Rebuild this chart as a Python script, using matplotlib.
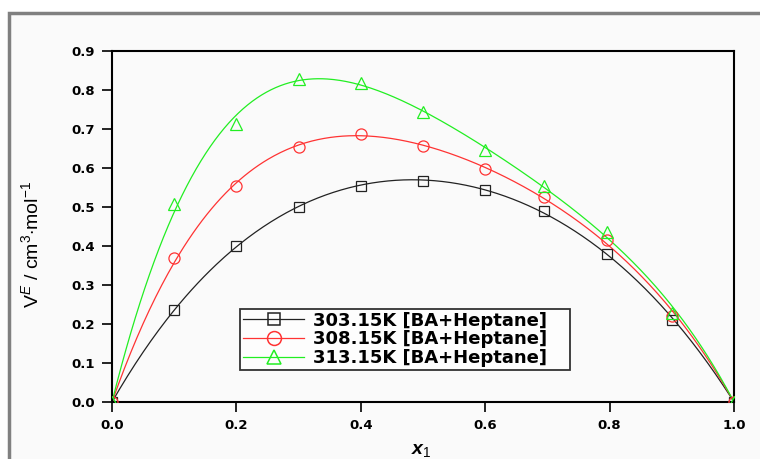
import numpy as np
import matplotlib
matplotlib.use("Agg")
import matplotlib.pyplot as plt
from matplotlib.lines import Line2D

# ---- data ----
x_data = [0.0, 0.1, 0.2, 0.3, 0.4, 0.5, 0.6, 0.695, 0.796, 0.9, 1.0]
v_303 = [0.0, 0.237, 0.400, 0.500, 0.555, 0.566, 0.544, 0.490, 0.380, 0.209, 0.0]
v_308 = [0.0, 0.369, 0.555, 0.655, 0.688, 0.656, 0.597, 0.526, 0.415, 0.220, 0.0]
v_313 = [0.0, 0.508, 0.714, 0.829, 0.818, 0.744, 0.645, 0.554, 0.436, 0.228, 0.0]
labels = ["303.15K [BA+Heptane]", "308.15K [BA+Heptane]", "313.15K [BA+Heptane]"]
colors = ["#222222", "#ff3333", "#22ee22"]
markers = ["s", "o", "^"]
x_ticks = [0.0, 0.2, 0.4, 0.6, 0.8, 1.0]
y_ticks = [0.0, 0.1, 0.2, 0.3, 0.4, 0.5, 0.6, 0.7, 0.8, 0.9]

plt.rcParams['font.family'] = ['Liberation Sans', 'DejaVu Sans']
plt.rcParams['mathtext.fontset'] = 'custom'
plt.rcParams['mathtext.rm'] = 'Liberation Sans'
plt.rcParams['mathtext.it'] = 'Liberation Sans:italic'
plt.rcParams['mathtext.bf'] = 'Liberation Sans:bold'
plt.rcParams['mathtext.bfit'] = 'Liberation Sans:bold:italic'

fig = plt.figure(figsize=(7.6, 4.59), dpi=100)
fig.patch.set_facecolor('white')

# outer frame
W, H = 760, 459
frame = plt.Rectangle((9 / W, -0.1), 1.2, (H - 13) / H + 0.1,
                      transform=fig.transFigure, facecolor='#fafafa',
                      edgecolor='#808080', linewidth=2.5, zorder=-10)
fig.add_artist(frame)

ax = fig.add_axes([112 / W, 1 - 402 / H, (734 - 112) / W, (402 - 51) / H])
ax.set_facecolor('none')
ax.set_zorder(1)


def rk_fit(x, v, n=3):
    x = np.asarray(x)
    v = np.asarray(v)
    A = np.column_stack([x * (1 - x) * (2 * x - 1) ** k for k in range(n)])
    coef, *_ = np.linalg.lstsq(A, v, rcond=None)
    xs = np.linspace(0, 1, 400)
    ys = sum(c * xs * (1 - xs) * (2 * xs - 1) ** k for k, c in enumerate(coef))
    return xs, ys


handles = []
for v, lab, c, m in zip([v_303, v_308, v_313], labels, colors, markers):
    xs, ys = rk_fit(x_data, v)
    ax.plot(xs, ys, color=c, lw=0.9, zorder=2)
    ax.plot(x_data, v, linestyle='none', marker=m, markersize=8 if m != 's' else 7,
            markerfacecolor='none', markeredgecolor=c, markeredgewidth=0.9, zorder=3)
    handles.append(Line2D([], [], color=c, lw=0.9, marker=m, markersize=10 if m != 's' else 8.5,
                          markerfacecolor='none', markeredgecolor=c, markeredgewidth=1.1))

ax.set_xlim(0, 1.0)
ax.set_ylim(0, 0.9)
ax.set_xticks(x_ticks)
ax.set_yticks(y_ticks)
tick_font = {'family': 'DejaVu Sans', 'weight': 'bold', 'size': 9.5}
ax.set_xticklabels([f"{t:.1f}" for t in x_ticks], fontdict=tick_font)
ax.set_yticklabels([f"{t:.1f}" for t in y_ticks], fontdict=tick_font)
ax.tick_params(direction='out', length=7, width=1.2, colors='black', pad=5)
for s in ax.spines.values():
    s.set_linewidth(1.5)
    s.set_color('black')

ax.set_xlabel(r"$\boldsymbol{x}_{1}$", fontsize=14)
ax.xaxis.set_label_coords(0.497, -0.115)
ax.set_ylabel(r"V$^{E}$ / cm$^{3}$$\cdot$mol$^{-1}$", fontsize=14)
ax.yaxis.set_label_coords(-0.112, 0.45)

leg = ax.legend(handles, labels, loc='lower left', bbox_to_anchor=(0.206, 0.091, 0.53, 0.19),
                mode='expand', frameon=True, fancybox=False, handlelength=3.4,
                prop={'family': 'DejaVu Sans', 'weight': 'bold', 'size': 13},
                borderpad=0.15, labelspacing=0.05,
                handletextpad=0.5, borderaxespad=0)
leg.get_frame().set_edgecolor('black')
leg.get_frame().set_linewidth(1.3)
leg.get_frame().set_facecolor('white')

fig.savefig("out.png", dpi=100)
